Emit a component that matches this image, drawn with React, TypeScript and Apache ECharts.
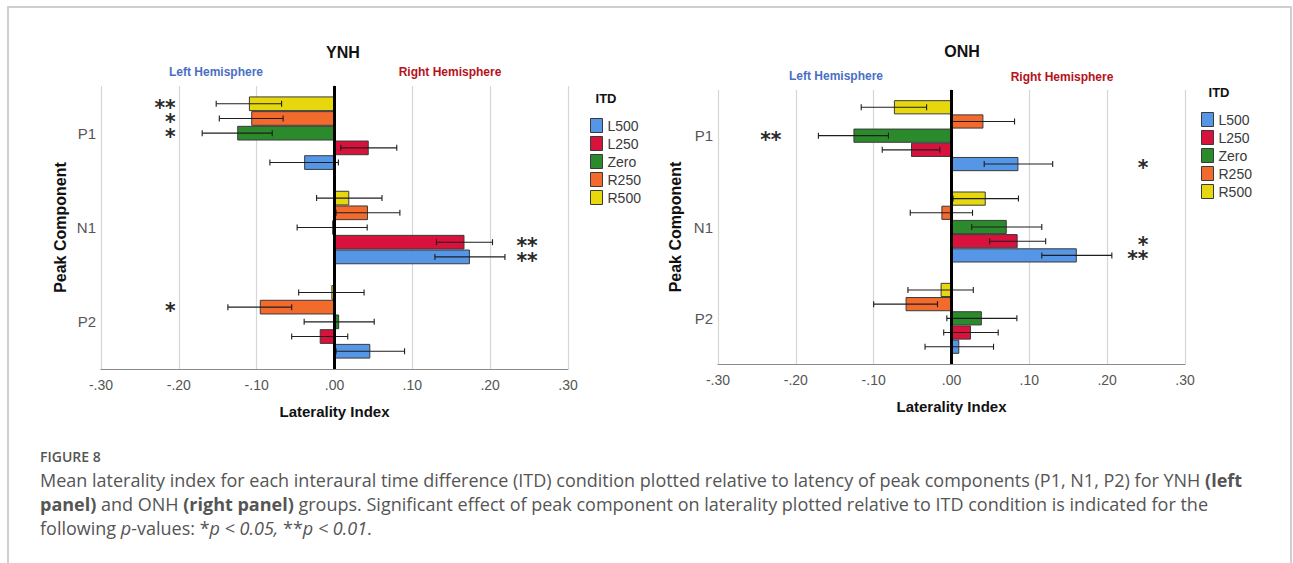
import React, { useEffect, useRef } from 'react';
import * as echarts from 'echarts';

// ---------- data ----------
const CATEGORIES = ['P1', 'N1', 'P2'];           // reading order, top to bottom
const AXIS_CATEGORIES = ['P2', 'N1', 'P1'];      // category axis order (bottom to top)
const ITD = ['L500', 'L250', 'Zero', 'R250', 'R500'];
const LAYOUT_ORDER = ['R500', 'R250', 'Zero', 'L250', 'L500']; // top to bottom inside a group
const ITD_COLORS = ['#5596e6', '#d8123c', '#2b8a2b', '#f26a2c', '#e6d80c'];
const X_TICKS = [-0.3, -0.2, -0.1, 0, 0.1, 0.2, 0.3];

// YNH means for [P1, N1, P2]
const ynhL500 = [-0.039, 0.174, 0.046];
const ynhL250 = [0.044, 0.167, -0.019];
const ynhZero = [-0.125, -0.003, 0.006];
const ynhR250 = [-0.107, 0.043, -0.096];
const ynhR500 = [-0.110, 0.019, -0.004];
// YNH error half-widths
const ynhL500Err = [0.044, 0.045, 0.044];
const ynhL250Err = [0.036, 0.036, 0.036];
const ynhZeroErr = [0.045, 0.045, 0.045];
const ynhR250Err = [0.041, 0.041, 0.041];
const ynhR500Err = [0.042, 0.042, 0.042];

// ONH means for [P1, N1, P2]
const onhL500 = [0.086, 0.161, 0.010];
const onhL250 = [-0.052, 0.085, 0.025];
const onhZero = [-0.126, 0.071, 0.039];
const onhR250 = [0.041, -0.013, -0.059];
const onhR500 = [-0.074, 0.044, -0.014];
// ONH error half-widths
const onhL500Err = [0.044, 0.045, 0.044];
const onhL250Err = [0.037, 0.036, 0.035];
const onhZeroErr = [0.045, 0.045, 0.045];
const onhR250Err = [0.040, 0.040, 0.041];
const onhR500Err = [0.042, 0.042, 0.042];

// significance marks (x = right edge of the mark, in laterality units)
const ynhStars = [
  { cat: 'P1', itd: 'R500', x: -0.204, mark: '**' },
  { cat: 'P1', itd: 'R250', x: -0.204, mark: '*' },
  { cat: 'P1', itd: 'Zero', x: -0.204, mark: '*' },
  { cat: 'N1', itd: 'L250', x: 0.261, mark: '**' },
  { cat: 'N1', itd: 'L500', x: 0.261, mark: '**' },
  { cat: 'P2', itd: 'R250', x: -0.204, mark: '*' },
];
const onhStars = [
  { cat: 'P1', itd: 'Zero', x: -0.2185, mark: '**' },
  { cat: 'P1', itd: 'L500', x: 0.253, mark: '*' },
  { cat: 'N1', itd: 'L250', x: 0.253, mark: '*' },
  { cat: 'N1', itd: 'L500', x: 0.253, mark: '**' },
];

const FONT = '"Liberation Sans", Arial, sans-serif';
const STAR_FONT = '"DejaVu Sans", sans-serif';
const STAR_SCALE = 1.45;

type Star = { cat: string; itd: string; x: number; mark: string };

function fmtTick(v: number) {
  const s = Math.abs(v).toFixed(2).replace(/^0/, '');
  return (v < -1e-9 ? '-' : '') + s;
}

// group marks that share a category and a column into one stacked text
function groupStars(stars: Star[]) {
  const groups: { cat: string; x: number; kmin: number; lines: string[] }[] = [];
  stars.forEach((s) => {
    if (!groups.find((q) => q.cat === s.cat && q.x === s.x)) {
      groups.push({ cat: s.cat, x: s.x, kmin: 99, lines: [] });
    }
  });
  groups.forEach((g) => {
    const members = stars.filter((s) => s.cat === g.cat && s.x === g.x);
    const ks = members.map((s) => LAYOUT_ORDER.indexOf(s.itd));
    const kmin = Math.min(...ks);
    const kmax = Math.max(...ks);
    g.kmin = kmin;
    for (let k = kmin; k <= kmax; k++) {
      const m = members.find((s) => LAYOUT_ORDER.indexOf(s.itd) === k);
      g.lines.push(m ? m.mark : ' ');
    }
  });
  return groups;
}

function buildPanel(gridIndex: number, means: number[][], errs: number[][], stars: Star[], bw: number) {
  const total = bw * ITD.length;
  const series: any[] = [];
  LAYOUT_ORDER.forEach((name, k) => {
    const i = ITD.indexOf(name);
    const s: any = {
      type: 'bar',
      name,
      xAxisIndex: gridIndex,
      yAxisIndex: gridIndex,
      barWidth: bw,
      barGap: '0%',
      data: AXIS_CATEGORIES.map((c) => means[i][CATEGORIES.indexOf(c)]),
      itemStyle: { color: ITD_COLORS[i], borderColor: '#3a3a3a', borderWidth: 1 },
    };
    if (k === 0) {
      s.markLine = {
        silent: true,
        symbol: 'none',
        label: { show: false },
        lineStyle: { color: '#000', width: 3, type: 'solid' },
        data: [{ xAxis: 0 }],
        z: 20,
      };
    }
    series.push(s);
  });

  const errData: number[][] = [];
  ITD.forEach((name, i) => {
    const k = LAYOUT_ORDER.indexOf(name);
    CATEGORIES.forEach((c, j) => {
      errData.push([AXIS_CATEGORIES.indexOf(c), means[i][j], errs[i][j], k]);
    });
  });
  series.push({
    type: 'custom',
    name: 'err' + gridIndex,
    xAxisIndex: gridIndex,
    yAxisIndex: gridIndex,
    encode: { x: 1, y: 0 },
    z: 10,
    silent: true,
    data: errData,
    renderItem: (params: any, api: any) => {
      const cat = api.value(0);
      const m = api.value(1);
      const e = api.value(2);
      const k = api.value(3);
      const base = api.coord([0, cat]);
      const yc = base[1] - total / 2 + (k + 0.5) * bw;
      const x1 = api.coord([m - e, cat])[0];
      const x2 = api.coord([m + e, cat])[0];
      const style = { stroke: '#1e1e1e', lineWidth: 1.1 };
      return {
        type: 'group',
        children: [
          { type: 'line', shape: { x1, y1: yc, x2, y2: yc }, style },
          { type: 'line', shape: { x1, y1: yc - 3, x2: x1, y2: yc + 3 }, style },
          { type: 'line', shape: { x1: x2, y1: yc - 3, x2, y2: yc + 3 }, style },
        ],
      };
    },
  });

  const groups = groupStars(stars);
  series.push({
    type: 'custom',
    name: 'stars' + gridIndex,
    xAxisIndex: gridIndex,
    yAxisIndex: gridIndex,
    encode: { x: 1, y: 0 },
    z: 10,
    silent: true,
    data: groups.map((g) => [AXIS_CATEGORIES.indexOf(g.cat), g.x]),
    renderItem: (params: any, api: any) => {
      const g = groups[params.dataIndex];
      const p = api.coord([api.value(1), api.value(0)]);
      const top = p[1] - total / 2 + g.kmin * bw;
      return {
        type: 'text',
        x: p[0],
        y: top + 4,
        scaleX: STAR_SCALE,
        scaleY: STAR_SCALE,
        style: {
          text: g.lines.join('\n'),
          fontSize: 14,
          lineHeight: bw / STAR_SCALE,
          fontFamily: STAR_FONT,
          fontWeight: 'bold',
          fill: '#2a2a2a',
          align: 'right',
          verticalAlign: 'top',
        },
      };
    },
  });
  return series;
}

function xAxis(gridIndex: number) {
  return {
    type: 'value',
    gridIndex,
    min: X_TICKS[0],
    max: X_TICKS[X_TICKS.length - 1],
    interval: 0.1,
    name: 'Laterality Index',
    nameLocation: 'middle',
    nameGap: 35,
    nameTextStyle: { fontSize: 15, fontWeight: 'bold', color: '#111', fontFamily: FONT },
    axisLine: { show: true, lineStyle: { color: '#8a8a8a', width: 1.2 } },
    axisTick: { show: false },
    axisLabel: {
      fontSize: 14,
      color: '#555',
      fontFamily: FONT,
      margin: 9,
      formatter: (v: number) => fmtTick(v),
    },
    splitLine: { show: true, lineStyle: { color: '#d6d6d6', width: 1.2 } },
  };
}

function yAxis(gridIndex: number, nameGap: number) {
  return {
    type: 'category',
    gridIndex,
    data: AXIS_CATEGORIES,
    name: 'Peak Component',
    nameLocation: 'middle',
    nameRotate: 90,
    nameGap,
    nameTextStyle: { fontSize: 16, fontWeight: 'bold', color: '#111', fontFamily: FONT },
    axisLine: { show: true, lineStyle: { color: '#8a8a8a', width: 1.2 } },
    axisTick: { show: false },
    axisLabel: { fontSize: 15, color: '#555', fontFamily: FONT, margin: 5 },
    splitLine: { show: false },
  };
}

function legend(left: number, top: number) {
  return {
    orient: 'vertical',
    left,
    top,
    icon: 'rect',
    itemWidth: 12,
    itemHeight: 14,
    itemGap: 3,
    data: ITD,
    selectedMode: false,
    itemStyle: { borderColor: '#3a3a3a', borderWidth: 1 },
    textStyle: { fontSize: 14, color: '#3a3a3a', fontFamily: FONT },
  };
}

function label(text: string, x: number, y: number, size: number, color: string, weight = 'bold') {
  return {
    type: 'text',
    x,
    y,
    style: {
      text,
      fontSize: size,
      fontWeight: weight,
      fill: color,
      fontFamily: FONT,
      align: 'center',
      verticalAlign: 'middle',
    },
  };
}

const CAPTION_FONT = '"Open Sans", "Noto Sans", sans-serif';
const CAPTION_SIZE = 18;
const CAPTION_LINES = [
  'Mean laterality index for each interaural time difference (ITD) condition plotted relative to latency of peak components (P1, N1, P2) for YNH {b|(left}',
  '{b|panel)} and ONH {b|(right panel)} groups. Significant effect of peak component on laterality plotted relative to ITD condition is indicated for the',
  'following {i|p}-values: *{i|p < 0.05,} **{i|p < 0.01}.',
];

export default function App() {
  const ref = useRef<HTMLDivElement>(null);
  useEffect(() => {
    if (!ref.current) return;
    const chart = echarts.init(ref.current, undefined, { renderer: 'svg' });
    const ynhMeans = [ynhL500, ynhL250, ynhZero, ynhR250, ynhR500];
    const ynhErrs = [ynhL500Err, ynhL250Err, ynhZeroErr, ynhR250Err, ynhR500Err];
    const onhMeans = [onhL500, onhL250, onhZero, onhR250, onhR500];
    const onhErrs = [onhL500Err, onhL250Err, onhZeroErr, onhR250Err, onhR500Err];

    const captionRich = {
      b: { fontWeight: 'bold', fontSize: CAPTION_SIZE, fontFamily: CAPTION_FONT, fill: '#555', color: '#555' },
      i: { fontStyle: 'italic', fontSize: CAPTION_SIZE, fontFamily: CAPTION_FONT, fill: '#555', color: '#555' },
    };

    chart.setOption({
      animation: false,
      backgroundColor: '#fff',
      grid: [
        { left: 101, top: 86, width: 467, height: 283 },
        { left: 718, top: 90, width: 467, height: 274 },
      ],
      xAxis: [xAxis(0), xAxis(1)],
      yAxis: [yAxis(0, 33), yAxis(1, 35)],
      legend: [legend(585, 113), legend(1196, 107)],
      series: [
        ...buildPanel(0, ynhMeans, ynhErrs, ynhStars, 14.7),
        ...buildPanel(1, onhMeans, onhErrs, onhStars, 14.2),
      ],
      graphic: [
        {
          type: 'rect',
          shape: { x: 8, y: 7, width: 1283, height: 600 },
          style: { fill: 'none', stroke: '#cfcfcf', lineWidth: 2 },
          silent: true,
        },
        label('YNH', 343, 52, 16, '#111'),
        label('Left Hemisphere', 216, 72, 12, '#4a6fc4'),
        label('Right Hemisphere', 450, 72, 12, '#b5121b'),
        label('ITD', 606, 98, 13, '#111'),
        label('ONH', 962, 51, 16, '#111'),
        label('Left Hemisphere', 836, 76, 12, '#4a6fc4'),
        label('Right Hemisphere', 1062, 77, 12, '#b5121b'),
        label('ITD', 1219, 92, 13, '#111'),
        {
          type: 'text',
          x: 40,
          y: 456,
          style: {
            text: 'FIGURE 8',
            fontSize: 14,
            fontWeight: 600,
            fill: '#555',
            fontFamily: CAPTION_FONT,
            verticalAlign: 'middle',
          },
        },
        ...CAPTION_LINES.map((t, idx) => ({
          type: 'text',
          x: 40,
          y: 480 + idx * 24,
          style: {
            text: t,
            fontSize: CAPTION_SIZE,
            fill: '#555',
            fontFamily: CAPTION_FONT,
            verticalAlign: 'middle',
            rich: captionRich,
          },
        })),
      ],
    });
    return () => chart.dispose();
  }, []);
  return (
    <div
      ref={ref}
      style={{ position: 'absolute', left: 0, top: 0, width: 1293, height: 563, background: '#fff' }}
    />
  );
}
